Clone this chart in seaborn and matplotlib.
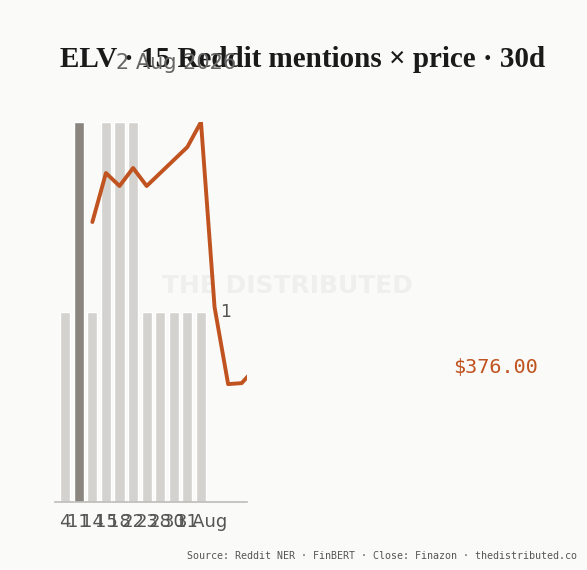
import numpy as np
import pandas as pd
import matplotlib
matplotlib.use("Agg")
import matplotlib.pyplot as plt
import matplotlib.transforms as mtransforms
import seaborn as sns

# -----------------------------
# Data
# -----------------------------
day_labels = ["4", "11", "14", "15", "18", "22", "23", "28", "30", "31", "1 Aug"]
mentions = [1, 2, 1, 2, 2, 2, 1, 1, 1, 1, 1]
highlight_idx = 1

price_idx = [2, 3, 4, 5, 6, 7, 8, 9, 10, 11, 12, 13, 14]
price = [412.5, 424.75, 421.5, 426.0, 421.5, 424.75, 428.0, 431.25, 437.5,
         391.25, 372.0, 372.25, 376.0]
last_price = 376.00

BG = "#fafaf8"
BAR = "#d3d2ce"
BAR_HI = "#8a867f"
LINE = "#c0531f"

sns.set_theme(style="white")
plt.rcParams["font.family"] = ["DejaVu Sans"]

fig = plt.figure(figsize=(5.87, 5.70), dpi=100, facecolor=BG)
ax = fig.add_axes([0.094, 0.119, 0.327, 0.667], facecolor=BG)

df = pd.DataFrame({"day": day_labels, "n": mentions})
colors = [BAR_HI if i == highlight_idx else BAR for i in range(len(df))]
sns.barplot(data=df, x="day", y="n", hue="day", palette=colors,
            legend=False, width=0.75, ax=ax, saturation=1)

ax.set_xlim(-0.74, 13.4)
ax.set_ylim(0, 2)
ax.set_xlabel("")
ax.set_ylabel("")
for s in ["top", "right", "left"]:
    ax.spines[s].set_visible(False)
ax.spines["bottom"].set_color("#bdbcb8")
ax.spines["bottom"].set_linewidth(1.2)
ax.tick_params(axis="x", length=0, labelsize=13, labelcolor="#555555", pad=8)
ax.set_yticks([])

# y tick "1" sits inside the plot on the right
trans = mtransforms.blended_transform_factory(ax.transAxes, ax.transData)
ax.text(0.89, 1, "1", transform=trans, ha="center", va="center",
        fontsize=12.5, color="#555555")

# watermark (behind the price line)
ax.text(0.49, 0.499, "THE DISTRIBUTED", transform=fig.transFigure,
        ha="center", va="center", fontsize=18, fontweight="bold",
        color="#efefed", zorder=0, clip_on=False)

# price line on twin axis
ax2 = ax.twinx()
sns.lineplot(x=price_idx, y=price, color=LINE, linewidth=2.8, ax=ax2)
ax2.set_ylim(342.5, 437.5)
ax2.set_xlim(-0.74, 13.4)
ax2.axis("off")

# texts
fig.text(0.516, 0.895, "ELV · 15 Reddit mentions × price · 30d", ha="center", va="center",
         fontsize=21, fontweight="bold", family="Liberation Serif", color="#1a1a1a")
fig.text(0.198, 0.889, "2 Aug 2026", ha="left", va="center",
         fontsize=15, color="#666666")
fig.text(0.845, 0.355, f"${last_price:.2f}", ha="center", va="center",
         fontsize=14.5, family="DejaVu Sans Mono", color=LINE)
fig.text(0.983, 0.025, "Source: Reddit NER · FinBERT · Close: Finazon · thedistributed.co",
         ha="right", va="center", fontsize=7.2, family="DejaVu Sans Mono", color="#555555")

fig.savefig("out.png", dpi=100, facecolor=BG)
